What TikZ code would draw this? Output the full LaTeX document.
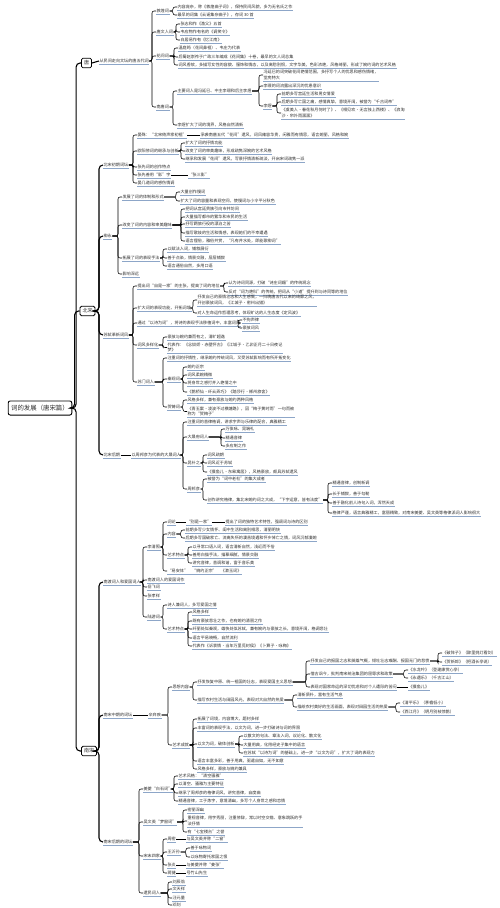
\documentclass[tikz,border=0pt]{standalone}
\usepackage{fontspec}
\newfontfamily\cjk{Noto Sans CJK SC}
\definecolor{ulc}{HTML}{8DA6C8}
\definecolor{txt}{HTML}{303030}
\tikzset{
  lf/.style={font=\cjk\fontsize{4.1}{5.4}\selectfont, text=txt, anchor=west,
    inner xsep=0.4pt, inner ysep=1pt, align=left,
    append after command={(\tikzlastnode.south west) edge[uline] (\tikzlastnode.south east)}},
  uline/.style={draw=ulc, line width=0.45pt},
  rootbox/.style={draw, rounded corners=2pt, line width=0.9pt, text=txt,
    font=\cjk\fontsize{6.4}{7}\selectfont, inner xsep=3pt, inner ysep=4pt},
  lvbox/.style={draw, rounded corners=1.5pt, line width=0.8pt, text=txt,
    font=\cjk\fontsize{5}{6}\selectfont, inner sep=2.5pt},
  br/.style={draw, line width=0.55pt, rounded corners=2pt},
  tr/.style={draw, line width=1.1pt, rounded corners=4pt},
}
\begin{document}
\begin{tikzpicture}[x=1pt, y=-1pt]
\fill[white] (0,0) rectangle (500,908);
\useasboundingbox (0,0) rectangle (500,908);

% root and the three periods
\node[rootbox] (R) at (40,408) {词的发展（唐宋篇）};
\node[lvbox] (T) at (86.5,63) {唐};
\node[lvbox] (B) at (87.5,311) {北宋};
\node[lvbox] (S) at (89,751) {南宋};

\foreach \c in {T,B,S}
  \draw[tr] (R.east) -| ([xshift=-5pt]\c.west) -- (\c.west);

%%%%%%%%%%%%%%%% 唐
\node[lf] (T1) at (99,61) {从民间走向文坛的唐五代词};
\draw[tr] (T.east) -- (T1.west);

\node[lf] (T11) at (156,11) {敦煌词};
\node[lf] (T12) at (156,32) {唐文人词};
\node[lf] (T13) at (156,56) {花间词};
\node[lf] (T14) at (156,107) {南唐词};

\node[lf] (T111) at (177,7) {内容庞杂，称《敦煌曲子词》，保持民间风貌，多为无名氏之作};
\node[lf] (T112) at (177,15) {最早的词集《云谣集杂曲子》，存词 30 首};

\node[lf] (T121) at (180,24) {张志和作《渔父》五首};
\node[lf] (T122) at (180,32) {韦应物作有名的《调笑令》};
\node[lf] (T123) at (180,40) {白居易作有《忆江南》};

\node[lf] (T131) at (178,48) {温庭筠（花间鼻祖）、韦庄为代表};
\node[lf] (T132) at (178,57) {后蜀赵崇祚于广政三年编成《花间集》十卷，最早的文人词总集};
\node[lf] (T133) at (178,65) {词风香软，多描写女性的容貌、服饰和情态，以及离愁别恨，文字华美，色彩浓艳，风格绮丽，形成了婉约词的艺术风格};

\node[lf] (T141) at (177,91) {主要词人是冯延巳、中主李璟和后主李煜};
\node[lf] (T142) at (177,125) {李煜扩大了词的境界，风格自然清新};

\node[lf] (T1411) at (263,75) {冯延巳的词突破花间艳情范围，多抒写个人的忧思和感伤情绪，\\堂庑特大};
\node[lf] (T1412) at (263,86) {李璟的词流露出深沉的忧患意识};
\node[lf] (T1413) at (263,106) {李煜};

\node[lf] (T14131) at (281,94) {前期多写宫廷生活和男女情爱};
\node[lf] (T14132) at (281,102) {后期多写亡国之痛，感情真挚，意境开阔，被誉为“千古词帝”};
\node[lf] (T14133) at (281,113) {《虞美人·春花秋月何时了》、《相见欢·无言独上西楼》、《浪淘\\沙·帘外雨潺潺》};

\foreach \c in {T11,T12,T13,T14}
  \draw[br] (T1.east) -| ([xshift=-4pt]\c.west) -- (\c.west);
\foreach \c in {T111,T112}
  \draw[br] (T11.east) -| ([xshift=-4pt]\c.west) -- (\c.west);
\foreach \c in {T121,T122,T123}
  \draw[br] (T12.east) -| ([xshift=-4pt]\c.west) -- (\c.west);
\foreach \c in {T131,T132,T133}
  \draw[br] (T13.east) -| ([xshift=-4pt]\c.west) -- (\c.west);
\foreach \c in {T141,T142}
  \draw[br] (T14.east) -| ([xshift=-4pt]\c.west) -- (\c.west);
\foreach \c in {T1411,T1412,T1413}
  \draw[br] (T141.east) -| ([xshift=-4pt]\c.west) -- (\c.west);
\foreach \c in {T14131,T14132,T14133}
  \draw[br] (T1413.east) -| ([xshift=-4pt]\c.west) -- (\c.west);

%%%%%%%%%%%%%%%% 北宋
\node[lf] (B1) at (103,165) {北宋初期词坛};
\node[lf] (B2) at (103,236) {柳永};
\node[lf] (B3) at (103,335) {苏轼革新词风};
\node[lf] (B4) at (103,455) {北宋后期};
\foreach \c in {B1,B2,B3,B4}
  \draw[tr] (B.east) -| ([xshift=-4pt]\c.west) -- (\c.west);

% 初期
\node[lf] (B11) at (137,135) {晏殊：“北宋倚声家初祖”};
\node[lf] (B11a) at (200,135) {承袭南唐五代“花间”遗风，词风雍容华贵，闲雅而有情思，语言婉丽，风格和婉};
\node[lf] (B12) at (137,151) {欧阳修词的继承与创新};
\node[lf] (B121) at (185,143) {扩大了词的抒情功能};
\node[lf] (B122) at (185,151) {改变了词的审美趣味，形成疏隽深婉的艺术风格};
\node[lf] (B123) at (185,159) {继承和发展“花间”遗风，写景抒情清新疏淡，开启宋词疏隽一派};
\node[lf] (B13) at (137,167) {张先词的创作特点};
\node[lf] (B14) at (137,175) {张先善用“影”字};
\node[lf] (B14a) at (188,175) {“张三影”};
\node[lf] (B15) at (137,183) {晏几道词的感伤情调};

\foreach \c in {B11,B12,B13,B14,B15}
  \draw[br] (B1.east) -| ([xshift=-4pt]\c.west) -- (\c.west);
\draw[br] (B11.east) -- (B11a.west);
\draw[br] (B14.east) -- (B14a.west);
\foreach \c in {B121,B122,B123}
  \draw[br] (B12.east) -| ([xshift=-4pt]\c.west) -- (\c.west);

% 柳永
\node[lf] (B21) at (122,197) {发展了词的体制和形式};
\node[lf] (B211) at (180,192) {大量创作慢词};
\node[lf] (B212) at (180,201) {扩大了词的容量和表现空间，使慢词与小令平分秋色};
\node[lf] (B22) at (122,225) {改变了词的内容和审美趣味};
\node[lf] (B221) at (185,209) {把词从宫廷贵族引向市井坊间};
\node[lf] (B222) at (185,217) {大量描写都市的繁华和市民的生活};
\node[lf] (B223) at (185,224) {抒写羁旅行役的漂泊之苦};
\node[lf] (B224) at (185,233) {描写歌妓的生活和情感，表现她们的不幸遭遇};
\node[lf] (B225) at (185,241) {语言俚俗，雅俗共赏，“凡有井水处，即能歌柳词”};
\node[lf] (B23) at (122,258) {拓展了词的表现手法};
\node[lf] (B231) at (167,249) {以赋法入词，铺叙展衍};
\node[lf] (B232) at (167,258) {善于点染，情景交融，层层铺叙};
\node[lf] (B233) at (167,266) {语言通俗自然，多用口语};
\node[lf] (B24) at (122,274) {影响深远};

\foreach \c in {B21,B22,B23,B24}
  \draw[br] (B2.east) -| ([xshift=-4pt]\c.west) -- (\c.west);
\foreach \c in {B211,B212}
  \draw[br] (B21.east) -| ([xshift=-4pt]\c.west) -- (\c.west);
\foreach \c in {B221,B222,B223,B224,B225}
  \draw[br] (B22.east) -| ([xshift=-4pt]\c.west) -- (\c.west);
\foreach \c in {B231,B232,B233}
  \draw[br] (B23.east) -| ([xshift=-4pt]\c.west) -- (\c.west);

% 苏轼
\node[lf] (B31) at (137,286) {提出词“自是一家”的主张，提高了词的地位};
\node[lf] (B311) at (228,283) {认为诗词同源，打破“诗庄词媚”的传统观念};
\node[lf] (B312) at (228,292) {反对“词为艳科”的传统，把词从“小道”提升到与诗同等的地位};
\node[lf] (B32) at (137,308) {扩大词的表现功能，开拓词境};
\node[lf] (B321) at (197,300) {抒发自己的豪情壮志和人生感慨，一扫晚唐五代以来的绮靡之风，\\开创豪放词风，《江城子·密州出猎》};
\node[lf] (B322) at (197,313) {对人生命运作哲理思考，体现旷达的人生态度《定风波》};
\node[lf] (B33) at (137,323) {通过“以诗为词”，将诗的表现手法移植词中，丰富词风};
\node[lf] (B331) at (242,320) {不拘声律};
\node[lf] (B332) at (242,328) {豪放词风};
\node[lf] (B34) at (137,345) {词风多样化};
\node[lf] (B341) at (167,337) {豪放与婉约兼而有之，清旷超逸};
\node[lf] (B342) at (167,347.5) {代表作：《念奴娇·赤壁怀古》《江城子·乙卯正月二十日夜记\\梦》};
\node[lf] (B35) at (137,382) {苏门词人};
\node[lf] (B351) at (167,358) {注重词的抒情性，继承婉约传统词风，又受苏轼影响而有所开拓变化};
\node[lf] (B352) at (167,379) {秦观词};
\node[lf] (B3521) at (187,367) {婉约正宗};
\node[lf] (B3522) at (187,375) {词风柔婉精微};
\node[lf] (B3523) at (187,383) {将身世之感打并入艳情之中};
\node[lf] (B3524) at (187,392) {《鹊桥仙·纤云弄巧》《踏莎行·郴州旅舍》};
\node[lf] (B353) at (167,407) {贺铸词};
\node[lf] (B3531) at (187,400) {风格多样，兼有豪放与婉约两种风格};
\node[lf] (B3532) at (187,411.5) {《青玉案·凌波不过横塘路》，因“梅子黄时雨”一句而被\\称为“贺梅子”};

\foreach \c in {B31,B32,B33,B34,B35}
  \draw[br] (B3.east) -| ([xshift=-4pt]\c.west) -- (\c.west);
\foreach \c in {B311,B312}
  \draw[br] (B31.east) -| ([xshift=-4pt]\c.west) -- (\c.west);
\foreach \c in {B321,B322}
  \draw[br] (B32.east) -| ([xshift=-4pt]\c.west) -- (\c.west);
\foreach \c in {B331,B332}
  \draw[br] (B33.east) -| ([xshift=-4pt]\c.west) -- (\c.west);
\foreach \c in {B341,B342}
  \draw[br] (B34.east) -| ([xshift=-4pt]\c.west) -- (\c.west);
\foreach \c in {B351,B352,B353}
  \draw[br] (B35.east) -| ([xshift=-4pt]\c.west) -- (\c.west);
\foreach \c in {B3521,B3522,B3523,B3524}
  \draw[br] (B352.east) -| ([xshift=-4pt]\c.west) -- (\c.west);
\foreach \c in {B3531,B3532}
  \draw[br] (B353.east) -| ([xshift=-4pt]\c.west) -- (\c.west);

% 后期
\node[lf] (B41) at (131,455) {以周邦彦为代表的大晟词人};
\draw[br] (B4.east) -- (B41.west);
\node[lf] (B411) at (187,422) {注重词的音律格调，讲求字声与乐律的配合，典雅精工};
\node[lf] (B412) at (187,437) {大晟府词人};
\node[lf] (B4121) at (225,429) {万俟咏、晁端礼};
\node[lf] (B4122) at (225,438) {精通音律};
\node[lf] (B4123) at (225,446) {多应制之作};
\node[lf] (B413) at (187,463) {晁补之};
\node[lf] (B4131) at (207,455) {词风疏朗};
\node[lf] (B4132) at (207,463) {词风近于苏轼};
\node[lf] (B4133) at (207,472) {《摸鱼儿·东皋寓居》，风格豪放，颇具苏轼遗风};
\node[lf] (B414) at (187,489) {周邦彦};
\node[lf] (B4141) at (207,479) {被誉为“词中老杜”的集大成者};
\node[lf] (B4142) at (207,500) {创作讲究格律，集北宋婉约词之大成，“下字运意，皆有法度”};
\node[lf] (B41421) at (332,483) {精通音律，创制新调};
\node[lf] (B41422) at (332,494) {长于铺叙，善于勾勒};
\node[lf] (B41423) at (332,503) {善于融化前人诗句入词，浑然天成};
\node[lf] (B41424) at (332,513) {格律严谨，语言典雅精工，富丽精致，对南宋姜夔、吴文英等格律派词人影响很大};

\foreach \c in {B411,B412,B413,B414}
  \draw[br] (B41.east) -| ([xshift=-4pt]\c.west) -- (\c.west);
\foreach \c in {B4121,B4122,B4123}
  \draw[br] (B412.east) -| ([xshift=-4pt]\c.west) -- (\c.west);
\foreach \c in {B4131,B4132,B4133}
  \draw[br] (B413.east) -| ([xshift=-4pt]\c.west) -- (\c.west);
\foreach \c in {B4141,B4142}
  \draw[br] (B414.east) -| ([xshift=-4pt]\c.west) -- (\c.west);
\foreach \c in {B41421,B41422,B41423,B41424}
  \draw[br] (B4142.east) -| ([xshift=-4pt]\c.west) -- (\c.west);

%%%%%%%%%%%%%%%% 南宋
\node[lf] (S1) at (103,582) {南渡词人和爱国词人};
\node[lf] (S2) at (103,715) {南宋中期的词坛};
\node[lf] (S3) at (103,842) {南宋后期的词坛};
\foreach \c in {S1,S2,S3}
  \draw[tr] (S.east) -| ([xshift=-4pt]\c.west) -- (\c.west);

% 南渡
\node[lf] (S11) at (147,547) {李清照};
\node[lf] (S111) at (167,522) {词论};
\node[lf] (S111a) at (186,522) {“别是一家”};
\node[lf] (S111b) at (225,522) {提出了词的独特艺术特性，强调词与诗的区别};
\node[lf] (S112) at (167,534) {内容};
\node[lf] (S1121) at (185,530) {前期多写少女情怀、闺中生活和离别相思，清丽明快};
\node[lf] (S1122) at (185,538) {后期多写国破家亡、流离失所的凄苦境遇和怀乡悼亡之情，词风沉郁凄婉};
\node[lf] (S113) at (167,555) {艺术特点};
\node[lf] (S1131) at (192,547) {以寻常口语入词，语言清新自然，浅近而不俗};
\node[lf] (S1132) at (192,555) {善用白描手法，描摹细腻，情景交融};
\node[lf] (S1133) at (192,563) {讲究音律，音调和谐，富于音乐美};
\node[lf] (S114) at (167,571) {“易安体”　“婉约正宗”　《漱玉词》};
\node[lf] (S12) at (147,580) {南渡词人的爱国词作};
\node[lf] (S13) at (147,587) {岳飞词};
\node[lf] (S14) at (147,596) {张孝祥};
\node[lf] (S15) at (147,617) {陆游词};
\node[lf] (S151) at (167,605) {诗人兼词人，多写爱国之情};
\node[lf] (S152) at (167,629) {艺术特点};
\node[lf] (S1521) at (192,612) {风格多样};
\node[lf] (S1522) at (192,621) {既有豪放悲壮之作，也有婉约清丽之作};
\node[lf] (S1523) at (192,629) {纤丽处似秦观，雄快处似苏轼，兼有婉约与豪放之长，意境开阔，格调悲壮};
\node[lf] (S1524) at (192,638) {语言平易晓畅，自然流利};
\node[lf] (S1525) at (192,646) {代表作《诉衷情·当年万里觅封侯》《卜算子·咏梅》};

\foreach \c in {S11,S12,S13,S14,S15}
  \draw[br] (S1.east) -| ([xshift=-4pt]\c.west) -- (\c.west);
\foreach \c in {S111,S112,S113,S114}
  \draw[br] (S11.east) -| ([xshift=-4pt]\c.west) -- (\c.west);
\draw[br] (S111.east) -- (S111a.west);
\draw[br] (S111a.east) -- (S111b.west);
\foreach \c in {S1121,S1122}
  \draw[br] (S112.east) -| ([xshift=-4pt]\c.west) -- (\c.west);
\foreach \c in {S1131,S1132,S1133}
  \draw[br] (S113.east) -| ([xshift=-4pt]\c.west) -- (\c.west);
\foreach \c in {S151,S152}
  \draw[br] (S15.east) -| ([xshift=-4pt]\c.west) -- (\c.west);
\foreach \c in {S1521,S1522,S1523,S1524,S1525}
  \draw[br] (S152.east) -| ([xshift=-4pt]\c.west) -- (\c.west);

% 辛弃疾
\node[lf] (S21) at (148,715) {辛弃疾};
\draw[br] (S2.east) -- (S21.west);
\node[lf] (S211) at (172,687) {思想内容};
\node[lf] (S2111) at (197,682) {抒发恢复中原、统一祖国的壮志，表现爱国主义思想};
\node[lf] (S21111) at (310,661) {抒发自己的报国之志和英雄气概，倾吐壮志难酬、报国无门的悲愤};
\node[lf] (S211111) at (442,653) {《破阵子》（醉里挑灯看剑）};
\node[lf] (S211112) at (442,662) {《贺新郎》（把酒长亭说）};
\node[lf] (S21112) at (310,674) {借古讽今，批判南宋统治集团的屈辱求和政策};
\node[lf] (S211121) at (408,670) {《水龙吟》（登建康赏心亭）};
\node[lf] (S211122) at (408,678) {《永遇乐》（千古江山）};
\node[lf] (S21113) at (310,687) {表现对国家命运的深切忧虑和对个人遭际的苦闷};
\node[lf] (S211131) at (408,687) {《摸鱼儿》};
\node[lf] (S2112) at (197,700) {描写农村生活与田园风光，表现对大自然的热爱};
\node[lf] (S21121) at (297,695) {清新质朴，富有生活气息};
\node[lf] (S21122) at (297,707) {描绘农村美好的生活画面，表现对田园生活的热爱};
\node[lf] (S211221) at (400,703) {《清平乐》（茅檐低小）};
\node[lf] (S211222) at (400,712) {《西江月》（明月别枝惊鹊）};
\node[lf] (S212) at (172,745) {艺术成就};
\node[lf] (S2121) at (197,719) {拓展了词境，内容博大，题材多样};
\node[lf] (S2122) at (197,728) {丰富词的表现手法，以文为词，进一步打破诗与词的界限};
\node[lf] (S2123) at (197,744) {以文为词，破体创新};
\node[lf] (S21231) at (243,736) {以散文的句法、章法入词，议论化、散文化};
\node[lf] (S21232) at (243,745) {大量用典，化用经史子集中的语言};
\node[lf] (S21233) at (243,753) {在苏轼“以诗为词”的基础上，进一步“以文为词”，扩大了词的表现力};
\node[lf] (S2124) at (197,761) {语言丰富多彩，善于用典，驱遣自如，无不如意};
\node[lf] (S2125) at (197,769) {风格多样，豪放与婉约兼具};

\foreach \c in {S211,S212}
  \draw[br] (S21.east) -| ([xshift=-4pt]\c.west) -- (\c.west);
\foreach \c in {S2111,S2112}
  \draw[br] (S211.east) -| ([xshift=-4pt]\c.west) -- (\c.west);
\foreach \c in {S21111,S21112,S21113}
  \draw[br] (S2111.east) -| ([xshift=-4pt]\c.west) -- (\c.west);
\foreach \c in {S211111,S211112}
  \draw[br] (S21111.east) -| ([xshift=-4pt]\c.west) -- (\c.west);
\foreach \c in {S211121,S211122}
  \draw[br] (S21112.east) -| ([xshift=-4pt]\c.west) -- (\c.west);
\draw[br] (S21113.east) -- (S211131.west);
\foreach \c in {S21121,S21122}
  \draw[br] (S2112.east) -| ([xshift=-4pt]\c.west) -- (\c.west);
\foreach \c in {S211221,S211222}
  \draw[br] (S21122.east) -| ([xshift=-4pt]\c.west) -- (\c.west);
\foreach \c in {S2121,S2122,S2123,S2124,S2125}
  \draw[br] (S212.east) -| ([xshift=-4pt]\c.west) -- (\c.west);
\foreach \c in {S21231,S21232,S21233}
  \draw[br] (S2123.east) -| ([xshift=-4pt]\c.west) -- (\c.west);

% 后期
\node[lf] (S31) at (143,789) {姜夔“白石词”};
\node[lf] (S311) at (178,776) {艺术风格：“清空骚雅”};
\node[lf] (S312) at (178,784) {以清空、骚雅为主要特征};
\node[lf] (S313) at (178,793) {继承了周邦彦的格律词风，讲究音律，自度曲};
\node[lf] (S314) at (178,801) {精通音律，工于炼字，意境清幽，多写个人身世之感和恋情};
\node[lf] (S32) at (143,822) {吴文英“梦窗词”};
\node[lf] (S321) at (187,810) {密丽深幽};
\node[lf] (S322) at (187,821) {重视音律，用字秀丽，注重修辞，常以时空交错、意象跳跃的手\\法抒情};
\node[lf] (S323) at (187,832) {有“七宝楼台”之誉};
\node[lf] (S33) at (143,856) {宋末四家};
\node[lf] (S331) at (167,839) {周密};
\node[lf] (S331a) at (186,839) {与吴文英并称“二窗”};
\node[lf] (S332) at (167,852) {王沂孙};
\node[lf] (S3321) at (190,848) {善于咏物词};
\node[lf] (S3322) at (190,857) {以咏物寄托家国之恨};
\node[lf] (S333) at (167,865) {张炎};
\node[lf] (S333a) at (186,865) {与姜夔并称“姜张”};
\node[lf] (S334) at (167,873) {蒋捷};
\node[lf] (S334a) at (186,873) {号竹山先生};
\node[lf] (S34) at (143,893) {遗民词人};
\node[lf] (S341) at (172,882) {刘辰翁};
\node[lf] (S342) at (172,889) {文天祥};
\node[lf] (S343) at (172,898) {汪元量};
\node[lf] (S344) at (172,905) {邓剡};

\foreach \c in {S31,S32,S33,S34}
  \draw[br] (S3.east) -| ([xshift=-4pt]\c.west) -- (\c.west);
\foreach \c in {S311,S312,S313,S314}
  \draw[br] (S31.east) -| ([xshift=-4pt]\c.west) -- (\c.west);
\foreach \c in {S321,S322,S323}
  \draw[br] (S32.east) -| ([xshift=-4pt]\c.west) -- (\c.west);
\foreach \c in {S331,S332,S333,S334}
  \draw[br] (S33.east) -| ([xshift=-4pt]\c.west) -- (\c.west);
\draw[br] (S331.east) -- (S331a.west);
\draw[br] (S333.east) -- (S333a.west);
\draw[br] (S334.east) -- (S334a.west);
\foreach \c in {S3321,S3322}
  \draw[br] (S332.east) -| ([xshift=-4pt]\c.west) -- (\c.west);
\foreach \c in {S341,S342,S343,S344}
  \draw[br] (S34.east) -| ([xshift=-4pt]\c.west) -- (\c.west);

\end{tikzpicture}
\end{document}
